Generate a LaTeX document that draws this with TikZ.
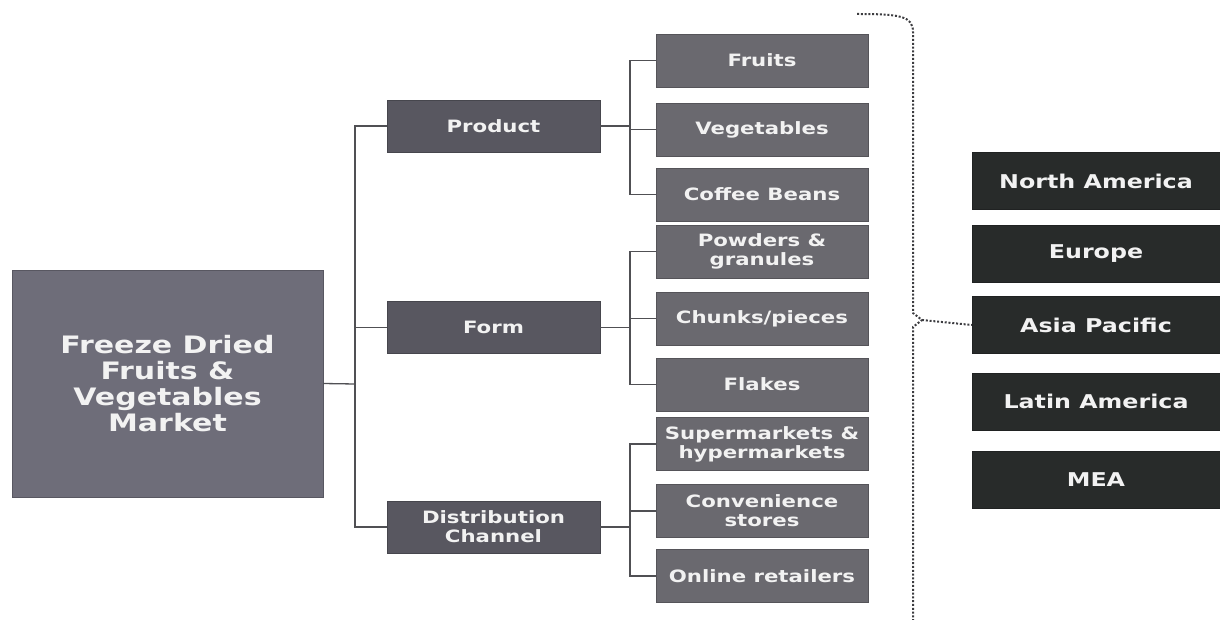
\documentclass[tikz,border=0pt]{standalone}
\usepackage{fontspec}
\newfontfamily\boxfont{DejaVu Sans}[FakeStretch=1.25]
\usetikzlibrary{positioning}
\definecolor{mainfill}{RGB}{110,109,121}
\definecolor{segfill}{RGB}{88,87,96}
\definecolor{itemfill}{RGB}{106,105,111}
\definecolor{regfill}{RGB}{40,43,42}
\definecolor{linkgray}{RGB}{80,80,84}
\definecolor{bracegray}{RGB}{60,60,64}
\definecolor{boxtext}{RGB}{242,242,242}
\begin{document}
\begin{tikzpicture}
      [
      x=1pt,y=-1pt,
      market/.style={rectangle,fill=mainfill,draw=mainfill!80!black,text=boxtext,align=center,minimum width=311pt,minimum height=227pt,font=\boxfont\bfseries\fontsize{24}{26}\selectfont},
      segment/.style={rectangle,fill=segfill,draw=segfill!80!black,text=boxtext,align=center,inner sep=0pt,minimum width=213pt,minimum height=52pt,font=\boxfont\bfseries\fontsize{17}{19}\selectfont},
      item/.style={rectangle,fill=itemfill,draw=itemfill!80!black,text=boxtext,align=center,inner sep=0pt,minimum width=212pt,minimum height=53pt,font=\boxfont\bfseries\fontsize{17}{19}\selectfont},
      region/.style={rectangle,fill=regfill,draw=regfill!80!black,text=boxtext,align=center,inner sep=0pt,minimum width=248pt,minimum height=57pt,font=\boxfont\bfseries\fontsize{19}{21}\selectfont},
      link/.style={draw=linkgray,line width=1.3pt},
      brace/.style={draw=bracegray,line width=2pt,dash pattern=on 2pt off 1.8pt}
      ]
      \useasboundingbox (0,0) rectangle (1220,620);
      \node (market) at (167.5,383.5) [market] {Freeze Dried\\Fruits \&\\Vegetables\\Market};
      \node (product) at (493.5,126) [segment] {Product};
      \node (form) at (493.5,327.5) [segment] {Form};
      \node (channel) at (493.5,527) [segment] {Distribution\\Channel};
      \node (fruits) at (762,60.5) [item] {Fruits};
      \node (vegetables) at (762,129.5) [item] {Vegetables};
      \node (coffee) at (762,194.5) [item] {Coffee Beans};
      \node (powders) at (762,251.5) [item] {Powders \&\\granules};
      \node (chunks) at (762,318.5) [item] {Chunks/pieces};
      \node (flakes) at (762,384.5) [item] {Flakes};
      \node (supermarkets) at (762,444) [item] {Supermarkets \&\\hypermarkets};
      \node (convenience) at (762,511) [item] {Convenience\\stores};
      \node (online) at (762,576) [item] {Online retailers};
      \node (na) at (1096,181) [region] {North America};
      \node (europe) at (1096,253.5) [region] {Europe};
      \node (apac) at (1096,325) [region] {Asia Pacific};
      \node (latam) at (1096,401.5) [region] {Latin America};
      \node (mea) at (1096,480) [region] {MEA};
      \coordinate (fork0) at (355,384);
      \coordinate (fork1) at (630,126);
      \coordinate (fork2) at (630,327.5);
      \coordinate (fork3) at (630,527);
      \coordinate (bracetop) at (857,14);
      \coordinate (bracetip) at (922,320);
      \coordinate (bracebottom) at (913,620);
      \draw [link] (market.east) to (fork0);
      \draw [link] (fork0) |- (product.west);
      \draw [link] (fork0) |- (form.west);
      \draw [link] (fork0) |- (channel.west);
      \draw [link] (product.east) to (fork1);
      \draw [link] (fork1) |- (fruits.west);
      \draw [link] (fork1) |- (vegetables.west);
      \draw [link] (fork1) |- (coffee.west);
      \draw [link] (form.east) to (fork2);
      \draw [link] (fork2) |- (powders.west);
      \draw [link] (fork2) |- (chunks.west);
      \draw [link] (fork2) |- (flakes.west);
      \draw [link] (channel.east) to (fork3);
      \draw [link] (fork3) |- (supermarkets.west);
      \draw [link] (fork3) |- (convenience.west);
      \draw [link] (fork3) |- (online.west);
      \draw [brace] (bracetop) .. controls (900,14) and (913,16) .. (913,32) -- (913,313) -- (bracetip) -- (913,327) -- (bracebottom);
      \draw [brace] (bracetip) to (apac.west);
    \end{tikzpicture}
\end{document}
